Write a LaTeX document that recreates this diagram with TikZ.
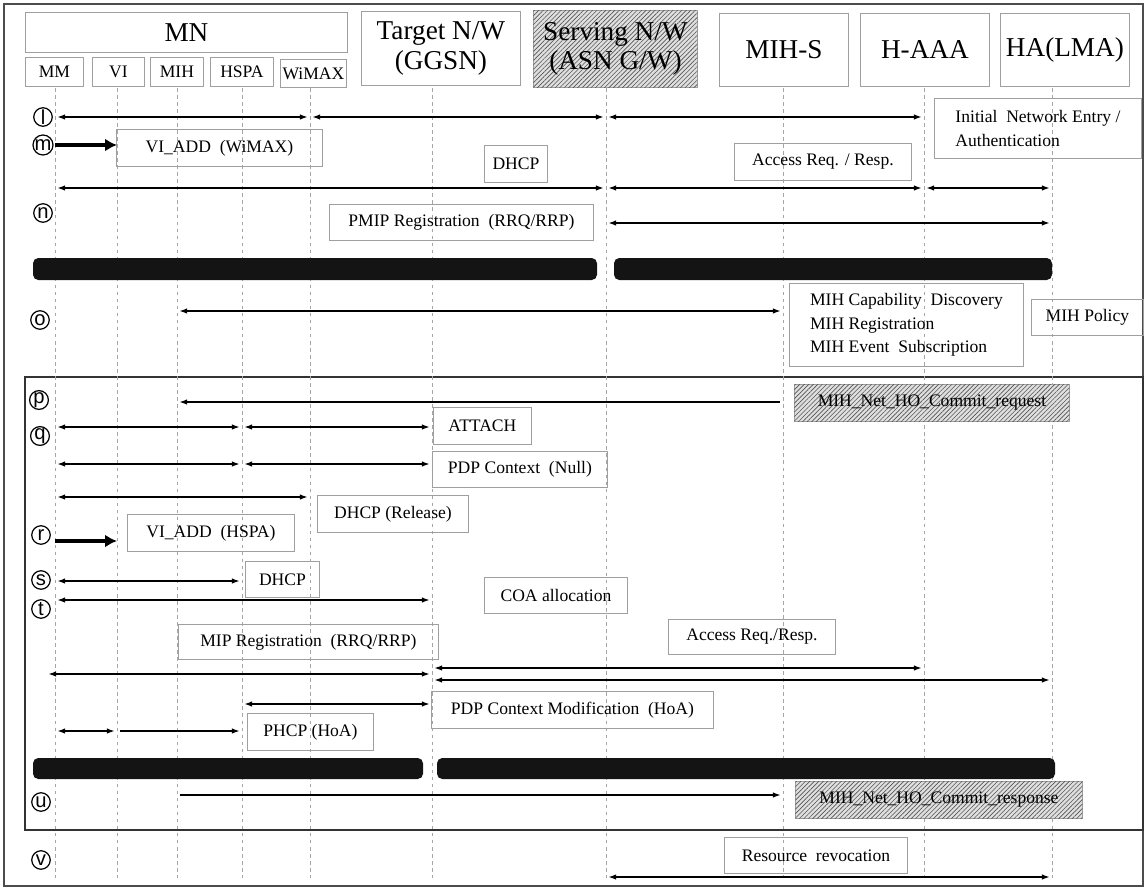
\documentclass[tikz,border=0pt]{standalone}
\usepackage{fontspec}
\setmainfont{Liberation Serif}
\newfontfamily\tagfont{Liberation Sans}
\usetikzlibrary{arrows.meta, patterns.meta}

\tikzset{
  wh/.style 2 args={minimum width=#1*0.02cm, minimum height=#2*0.02cm},
  box/.style={draw=gray!75, line width=0.5pt, anchor=north west, inner sep=0pt,
    font=\fontsize{10}{13.5}\selectfont},
  big/.style={box, font=\fontsize{15.5}{17}\selectfont, align=center},
  hatched/.style={fill=gray!25, postaction={pattern={Lines[angle=45, distance=1.8pt, line width=0.35pt]}, pattern color=gray!65!black}},
  tag/.style={circle, draw, line width=0.7pt, inner sep=0pt, minimum size=0.37cm,
    font=\tagfont\fontsize{11.5}{11.5}\selectfont},
  msg/.style={line width=0.6pt, shorten <=1.5pt, shorten >=1.5pt},
  fat/.style={-{Latex[length=2.4mm, width=2.6mm]}, line width=1.8pt},
  life/.style={gray!70, line width=0.5pt, dash pattern=on 2pt off 2pt},
  bar/.style={fill=black!92, rounded corners=3pt}
}

\begin{document}
\begin{tikzpicture}[x=0.02cm, y=-0.02cm, >={Latex[length=1.5mm, width=1.1mm]}]
\useasboundingbox (0,0) rectangle (1146,889);

% frames
\draw[gray!60!black, line width=1pt] (4,4) rectangle (1143,886);
\draw[black!80, line width=1.6pt] (25,377) rectangle (1143,830);

% header
\node[big, wh={322}{40}] (mnbox) at (25,12) {MN};
\node[box, wh={58}{29}] (mmbox) at (25,57) {MM};
\node[box, wh={52}{29}] (vibox) at (92,57) {VI};
\node[box, wh={53}{29}] (mihbox) at (150,57) {MIH};
\node[box, wh={63}{29}] (hspabox) at (210,57) {HSPA};
\node[box, wh={66}{28}] (wimaxbox) at (280,59) {WiMAX};
\node[big, wh={159}{74}] (ggsnbox) at (361,11) {Target N/W\\(GGSN)};
\node[big, hatched, wh={164}{77}] (asnbox) at (533,10) {Serving N/W\\(ASN G/W)};
\node[big, wh={129}{73}] (mihsbox) at (719,13) {MIH-S};
\node[big, wh={129}{73}] (haaabox) at (860,13) {H-AAA};
\node[big, wh={129}{73}] (habox) at (1000,13) {HA(LMA)};

% lifelines
\foreach \n/\x in {mm/55, vi/117, mih/177, hspa/242, wimax/310, ggsn/432, asn/606, mihs/783, haaa/924, ha/1052}{
  \coordinate (\n) at (\x,88);
  \draw[life] (\n) -- ++(0,790);
}

% rows of messages
\foreach \r/\y in {ra/117, rb/145, rc/188, rd/223, re/311, rf/402, rg/427, rh/464, ri/497, rj/541,
                   rk/581, rl/600, rm/668, rn/674, ro/680, rp/704, rq/731, rr/795, rs/877}
  \coordinate (\r) at (0,\y);

% step tags
\node[tag] (tl) at (43,117) {l};
\node[tag] (tm) at (43,145) {m};
\node[tag] (tn) at (43,213) {n};
\node[tag] (to) at (40,320) {o};
\node[tag] (tp) at (39,400) {p};
\node[tag] (tq) at (40,436) {q};
\node[tag] (tr) at (41,535) {r};
\node[tag] (ts) at (41,580) {s};
\node[tag] (tt) at (41,609) {t};
\node[tag] (tu) at (41,802) {u};
\node[tag] (tv) at (41,860) {v};

% labels
\node[box, wh={207}{60}, align=left] (ine) at (934,98) {Initial\ \ Network Entry /\\Authentication};
\node[box, wh={206}{37}] (viaddw) at (116,129) {VI\_ADD\ \ (WiMAX)};
\node[box, wh={63}{37}] (dhcpa) at (484,145) {DHCP};
\node[box, wh={177}{37}] (accra) at (734,143) {Access Req. / Resp.};
\node[box, wh={264}{36}] (pmip) at (329,204) {PMIP Registration\ \ (RRQ/RRP)};
\node[box, wh={234}{83}, align=left] (mihcap) at (789,283) {MIH Capability\ \ Discovery\\MIH Registration\\MIH Event\ \ Subscription};
\node[box, wh={112}{36}] (mihpol) at (1031,299) {MIH Policy};
\node[box, hatched, wh={275}{37}] (commreq) at (794,384) {MIH\_Net\_HO\_Commit\_request};
\node[box, wh={98}{37}] (attach) at (433,407) {ATTACH};
\node[box, wh={175}{36}] (pdpnull) at (432,451) {PDP Context\ \ (Null)};
\node[box, wh={151}{37}] (dhcprel) at (317,495) {DHCP (Release)};
\node[box, wh={167}{37}] (viaddh) at (127,514) {VI\_ADD\ \ (HSPA)};
\node[box, wh={74}{36}] (dhcpb) at (245,561) {DHCP};
\node[box, wh={143}{36}] (coa) at (484,577) {COA allocation};
\node[box, wh={260}{35}] (mip) at (178,624) {MIP Registration\ \ (RRQ/RRP)};
\node[box, wh={167}{35}] (accrb) at (668,619) {Access Req./Resp.};
\node[box, wh={282}{37}] (pdpmod) at (431,691) {PDP Context Modification\ \ (HoA)};
\node[box, wh={126}{37}] (phcp) at (247,713) {PHCP (HoA)};
\node[box, hatched, wh={287}{37}] (commresp) at (795,781) {MIH\_Net\_HO\_Commit\_response};
\node[box, wh={183}{36}] (resrev) at (724,837) {Resource\ \ revocation};

% bars
\fill[bar] (33,258) rectangle (597,280);
\fill[bar] (614,258) rectangle (1052,280);
\fill[bar] (33,758) rectangle (423,779);
\fill[bar] (437,758) rectangle (1055,779);

% l
\draw[msg, <->] (mm |- ra) -- (wimax |- ra);
\draw[msg, <->] (wimax |- ra) -- (asn |- ra);
\draw[msg, <->] (asn |- ra) -- (haaa |- ra);
% m
\draw[fat] (mm |- rb) -- (vi |- rb);
\draw[msg, <->] (mm |- rc) -- (asn |- rc);
\draw[msg, <->] (asn |- rc) -- (haaa |- rc);
\draw[msg, <->] (haaa |- rc) -- (ha |- rc);
% n
\draw[msg, <->] (asn |- rd) -- (ha |- rd);
% o
\draw[msg, <->] (mih |- re) -- (mihs |- re);
% p
\draw[msg, <-] (mih |- rf) -- (mihs |- rf);
% q
\draw[msg, <->] (mm |- rg) -- (hspa |- rg);
\draw[msg, <->] (hspa |- rg) -- (ggsn |- rg);
\draw[msg, <->] (mm |- rh) -- (hspa |- rh);
\draw[msg, <->] (hspa |- rh) -- (ggsn |- rh);
\draw[msg, <->] (mm |- ri) -- (wimax |- ri);
% r
\draw[fat] (mm |- rj) -- (vi |- rj);
% s, t
\draw[msg, <->] (mm |- rk) -- (hspa |- rk);
\draw[msg, <->] (mm |- rl) -- (ggsn |- rl);
\draw[msg, <->] (ggsn |- rm) -- (haaa |- rm);
\draw[msg, <->] ([xshift=-0.18cm]mm |- rn) -- (ggsn |- rn);
\draw[msg, <->] (ggsn |- ro) -- (ha |- ro);
\draw[msg, <->] (hspa |- rp) -- (ggsn |- rp);
\draw[msg, <->] (mm |- rq) -- (vi |- rq);
\draw[msg, ->] (vi |- rq) -- (hspa |- rq);
% u
\draw[msg, ->] (mih |- rr) -- (mihs |- rr);
% v
\draw[msg, <->] (asn |- rs) -- (ha |- rs);

\end{tikzpicture}
\end{document}
